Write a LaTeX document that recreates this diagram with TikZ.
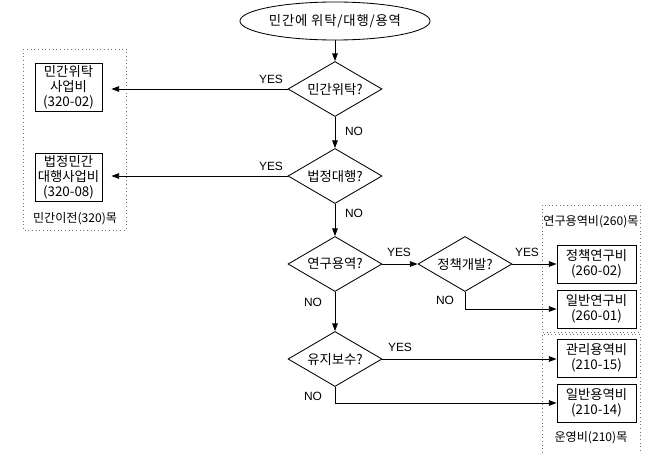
\documentclass[tikz,border=0pt]{standalone}
\usepackage{fontspec}
\setmainfont{Noto Sans CJK KR}
\newfontfamily\yesno{Liberation Sans}
\usetikzlibrary{arrows.meta,shapes.geometric}

\begin{document}
\begin{tikzpicture}[x=0.025cm, y=-0.025cm, line width=0.6pt,
  txt/.style={font=\fontsize{9.5}{10.8}\selectfont, align=center},
  gtxt/.style={font=\fontsize{8.6}{10}\selectfont},
  start/.style={draw, ellipse, inner sep=0pt, minimum width=4.75cm, minimum height=0.95cm, txt},
  cond/.style={draw, diamond, aspect=1.7, inner sep=0pt, minimum width=2.35cm, minimum height=1.375cm, txt},
  lbox/.style={draw, txt, inner sep=0pt, minimum width=1.675cm, minimum height=1.2cm},
  rbox/.style={draw, txt, inner sep=0pt, minimum width=1.975cm, minimum height=0.95cm},
  grp/.style={draw=black!55, dotted},
  lab/.style={font=\yesno\fontsize{8.5}{10}\selectfont},
  arr/.style={-{Triangle[length=5.5pt,width=4pt]}}]
\useasboundingbox (0,0) rectangle (650,453);

% groups
\draw[grp] (23,49) rectangle (126,230);
\draw (75,219) node (g1) [gtxt] {민간이전(320)목};
\draw[grp] (542,205) rectangle (640,332);
\draw (591,222) node (g2) [gtxt] {연구용역비(260)목};
\draw[grp] (542,460) |- (640,334) -- (640,460);
\draw (591,438) node (g3) [gtxt] {운영비(210)목};

% main column
\draw (335,21)  node (s)  [start] {\makebox[2.5cm]{\addfontfeatures{LetterSpace=6}민간에 위탁/대행/용역}};
\draw (335,89)  node (d1) [cond] {민간위탁?};
\draw (335,176) node (d2) [cond] {법정대행?};
\draw (335,264) node (d3) [cond] {연구용역?};
\draw (335,359) node (d4) [cond] {유지보수?};
\draw (465,264) node (d5) [cond] {정책개발?};

% budget items
\draw (68.5,87)  node (b1) [lbox] {민간위탁\\사업비\\(320-02)};
\draw (68.5,177) node (b2) [lbox] {법정민간\\대행사업비\\(320-08)};
\draw (596.5,264) node (b3) [rbox] {정책연구비\\(260-02)};
\draw (596.5,309) node (b4) [rbox] {일반연구비\\(260-01)};
\draw (596.5,358) node (b5) [rbox] {관리용역비\\(210-15)};
\draw (596.5,403) node (b6) [rbox] {일반용역비\\(210-14)};

\draw[arr] (s) -- (d1);
\draw[arr] (d1) -- (d2);
\draw[arr] (d2) -- (d3);
\draw[arr] (d3) -- (d4);
\draw[arr] (d3) -- (d5);
\draw[arr, shorten >=6.4pt] (d1.west) -- (d1.west -| b1.east);
\draw[arr, shorten >=6.4pt] (d2.west) -- (d2.west -| b2.east);
\draw[arr] (d5) -- (b3);
\draw[arr] (d5.south) |- (b4.west);
\draw[arr] (d4.east) -- (d4.east -| b5.west);
\draw[arr] (d4.south) |- (b6.west);

% YES / NO
\draw (271,79)  node (y1) [lab] {YES};
\draw (271,166) node (y2) [lab] {YES};
\draw (399,252) node (y3) [lab] {YES};
\draw (527,252) node (y4) [lab] {YES};
\draw (400,347) node (y5) [lab] {YES};
\draw (354,131) node (n1) [lab] {NO};
\draw (354,213) node (n2) [lab] {NO};
\draw (313,302) node (n3) [lab] {NO};
\draw (313,396) node (n4) [lab] {NO};
\draw (445,300) node (n5) [lab] {NO};
\end{tikzpicture}
\end{document}
